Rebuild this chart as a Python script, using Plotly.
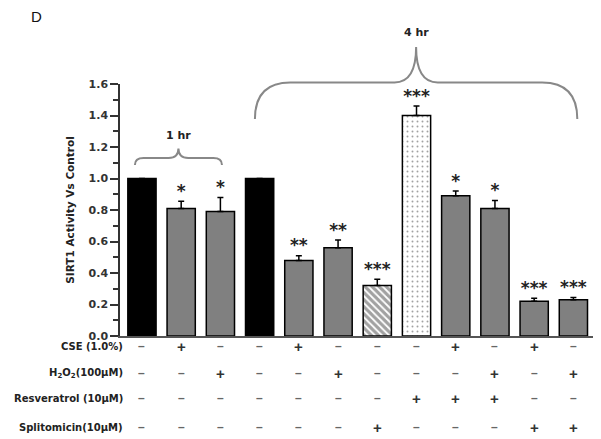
import plotly.graph_objects as go

# Bar data (SIRT1 activity relative to control)
values = [1.00, 0.81, 0.79, 1.00, 0.48, 0.56, 0.32, 1.40, 0.89, 0.81, 0.22, 0.23]
errors = [0.0, 0.045, 0.09, 0.0, 0.03, 0.05, 0.04, 0.06, 0.03, 0.05, 0.02, 0.015]
stars = ["", "*", "*", "", "**", "**", "***", "***", "*", "*", "***", "***"]

# Treatment table under the bars
row_labels = ["CSE (1.0%)", "H<sub>2</sub>O<sub>2</sub>(100µM)",
              "Resveratrol (10µM)", "Splitomicin(10µM)"]
cse = ["-", "+", "-", "-", "+", "-", "-", "-", "+", "-", "+", "-"]
h2o2 = ["-", "-", "+", "-", "-", "+", "-", "-", "-", "+", "-", "+"]
resveratrol = ["-", "-", "-", "-", "-", "-", "-", "+", "+", "+", "-", "-"]
splitomicin = ["-", "-", "-", "-", "-", "-", "+", "-", "-", "-", "+", "+"]

# Time groups: label, first bar, last bar
group_labels = ["1 hr", "4 hr"]
group_first = [0, 3]
group_last = [2, 11]

n = len(values)
xs = list(range(n))
fills = ["black", "#808080", "#808080", "black", "#808080", "#808080",
         "white", "white", "#808080", "#808080", "#808080", "#808080"]
patterns = ["", "", "", "", "", "", "\\", ".", "", "", "", ""]
pat_fg = ["black"] * 6 + ["black", "#666666"] + ["black"] * 4

FONT = "DejaVu Sans"
XMIN, XMAX = -0.56, 11.5
YMAX = 1.6
# page body adds an 8px offset, so the figure is drawn 8px smaller
W, H = 593, 431
L, T, B = 112, 76, 103
PW = 473
PH = 252


def px(v):
    return (v - XMIN) / (XMAX - XMIN)


def py(v):
    return v / YMAX


fig = go.Figure()

fig.add_trace(go.Bar(
    x=xs, y=values,
    width=0.72,
    marker=dict(
        color=fills,
        line=dict(color="black", width=1.5),
        pattern=dict(shape=patterns, fgcolor=pat_fg, size=5,
                     solidity=[0.3] * 6 + [0.65, 0.12] + [0.3] * 4,
                     fillmode="overlay"),
    ),
    error_y=dict(type="data", symmetric=False, array=errors,
                 arrayminus=[0] * n, color="black", thickness=1.5, width=3),
    showlegend=False,
))

fig.add_trace(go.Scatter(
    x=xs, y=[v + e for v, e in zip(values, errors)],
    mode="text", text=stars, textposition="top center",
    textfont=dict(family=FONT, size=17, color="#222222", weight="bold"),
    showlegend=False, cliponaxis=False,
))

annotations = []

# treatment rows (pixel rows below the plot bottom)
rows = [cse, h2o2, resveratrol, splitomicin]
row_px = [10, 37, 62, 91]
for lab, signs, dy in zip(row_labels, rows, row_px):
    yy = -dy / PH
    annotations.append(dict(
        x=5 / PW, y=yy, xref="paper", yref="paper", text=lab,
        xanchor="right", yanchor="middle", showarrow=False,
        font=dict(family=FONT, size=10, color="#222222", weight="bold"),
    ))
    for i, s in enumerate(signs):
        annotations.append(dict(
            x=px(i), y=yy, xref="paper", yref="paper",
            text="+" if s == "+" else "–",
            xanchor="center", yanchor="middle", showarrow=False,
            font=dict(family="Arial", size=15 if s == "+" else 12,
                      color="#333333" if s == "+" else "#666666",
                      weight="bold"),
        ))

# curly braces for time groups
shapes = []
brace_style = [
    # pad left, pad right, end y, flat y, peak y, corner dx, peak dx, label y
    (-0.18, 0.04, 1.086, 1.13, 1.19, 0.22, 0.25, 1.275),
    (-0.12, 0.10, 1.378, 1.61, 1.835, 0.9, 0.55, 1.93),
]
for lab, a, b, st in zip(group_labels, group_first, group_last, brace_style):
    pl, pr, ye, yf, yp, cdx, pdx, yl = st
    x0, x1 = a + pl, b + pr
    xc = (x0 + x1) / 2
    path = (
        f"M {px(x0)},{py(ye)} Q {px(x0)},{py(yf)} {px(x0 + cdx)},{py(yf)} "
        f"L {px(xc - pdx)},{py(yf)} Q {px(xc)},{py(yf)} {px(xc)},{py(yp)} "
        f"Q {px(xc)},{py(yf)} {px(xc + pdx)},{py(yf)} "
        f"L {px(x1 - cdx)},{py(yf)} Q {px(x1)},{py(yf)} {px(x1)},{py(ye)}"
    )
    shapes.append(dict(type="path", xref="paper", yref="paper", path=path,
                       line=dict(color="#888888", width=2)))
    annotations.append(dict(
        x=px(xc), y=py(yl), xref="paper", yref="paper", text=lab,
        showarrow=False, xanchor="center", yanchor="middle",
        font=dict(family=FONT, size=11, color="#222222", weight="bold"),
    ))

# panel letter
annotations.append(dict(
    x=(28 - L) / PW, y=(T + PH + 2) / PH, xref="paper", yref="paper",
    text="D", showarrow=False, xanchor="center", yanchor="top",
    font=dict(family="Arial", size=15, color="#111111"),
))

fig.update_layout(
    width=W, height=H,
    margin=dict(l=L, r=W - L - PW, t=T, b=B),
    plot_bgcolor="white", paper_bgcolor="white",
    shapes=shapes,
    annotations=annotations,
    xaxis=dict(range=[XMIN, XMAX], showgrid=False, zeroline=False,
               showticklabels=False, ticks="", showline=True,
               linecolor="#555555", linewidth=1.5),
    yaxis=dict(range=[0, YMAX], showgrid=False, zeroline=False,
               tickvals=[0, 0.2, 0.4, 0.6, 0.8, 1.0, 1.2, 1.4, 1.6],
               tickformat=".1f", ticks="outside", ticklen=8, tickwidth=1.5,
               tickcolor="#333333", showline=True, linecolor="#333333",
               linewidth=1.5,
               minor=dict(tickvals=[0.1, 0.3, 0.5, 0.7, 0.9, 1.1, 1.3, 1.5],
                          ticks="outside", ticklen=5, tickwidth=1.5,
                          tickcolor="#333333"),
               tickfont=dict(family=FONT, size=11, color="#333333",
                             weight="bold"),
               title=dict(text="SIRT1 Activity Vs Control", standoff=12,
                          font=dict(family=FONT, size=10.5, color="#222222",
                                    weight="bold"))),
)

fig.write_html("out.html")
